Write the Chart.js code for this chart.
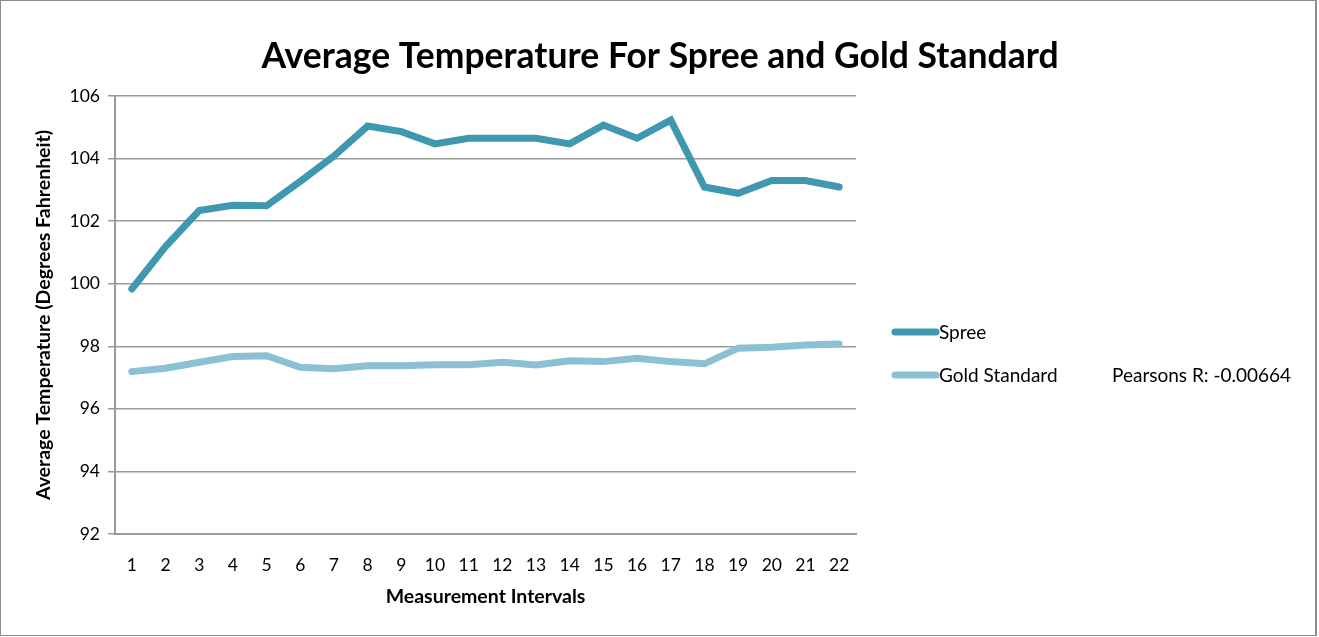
<!DOCTYPE html>
<html>
<head>
<meta charset="utf-8">
<script src="https://cdn.jsdelivr.net/npm/chart.js@4"></script>
<style>
    html, body { margin: 0; padding: 0; background: #fff; overflow: hidden; }
    #wrap { position: relative; width: 1319px; height: 637px; }
    #frame { position: absolute; left: 0; top: 0; width: 1317px; height: 636px; border: 1px solid #8c8c8c; border-right-width: 2px; border-top-width: 1px; box-sizing: border-box; pointer-events: none; }
    canvas { display: block; position: absolute; left: 0; top: 0; }
</style>
</head>
<body>
<div id="wrap"><canvas id="tempChart" width="1319" height="637"></canvas><div id="frame"></div></div>
<script>
const intervals = ['1', '2', '3', '4', '5', '6', '7', '8', '9', '10', '11', '12', '13', '14', '15', '16', '17', '18', '19', '20', '21', '22'];
const spree = [99.83, 101.19, 102.34, 102.51, 102.49, 103.27, 104.08, 105.04, 104.86, 104.47, 104.65, 104.65,
               104.65, 104.47, 105.07, 104.65, 105.23, 103.09, 102.89, 103.3, 103.3, 103.09];
const goldStandard = [97.19, 97.3, 97.49, 97.67, 97.7, 97.33, 97.28, 97.38, 97.38, 97.41, 97.41, 97.49,
                      97.4, 97.54, 97.51, 97.62, 97.51, 97.44, 97.94, 97.97, 98.04, 98.07];
const pearsonsText = 'Pearsons R: -0.00664';

const FONT = 'Lato, "Open Sans", sans-serif';

// legend and title drawn by hand so they land where the original puts them
const chartDecor = {
    id: 'chartDecor',
    afterDraw(chart) {
        const ctx = chart.ctx;
        ctx.save();
        ctx.fillStyle = '#000';
        ctx.textAlign = 'center';
        ctx.textBaseline = 'middle';
        ctx.font = 'bold 35.5px ' + FONT;
        ctx.fillText('Average Temperature For Spree and Gold Standard', 660, 57);

        ctx.font = '19px ' + FONT;
        ctx.textAlign = 'left';
        chart.data.datasets.forEach((ds, i) => {
            const y = 332 + i * 43;
            ctx.strokeStyle = ds.borderColor;
            ctx.lineWidth = 7;
            ctx.lineCap = 'round';
            ctx.beginPath();
            ctx.moveTo(895, y);
            ctx.lineTo(936, y);
            ctx.stroke();
            ctx.fillText(ds.label, 939, y + 1);
        });
        ctx.fillText(pearsonsText, 1112, 376);
        ctx.restore();
    }
};

const ctx = document.getElementById('tempChart').getContext('2d');
new Chart(ctx, {
    type: 'line',
    data: {
        labels: intervals,
        datasets: [
            { label: 'Spree', data: spree, borderColor: '#3f97b0', borderWidth: 7, borderCapStyle: 'round', pointRadius: 0, tension: 0 },
            { label: 'Gold Standard', data: goldStandard, borderColor: '#8cc0d4', borderWidth: 7, borderCapStyle: 'round', pointRadius: 0, tension: 0 }
        ]
    },
    options: {
        responsive: false,
        animation: false,
        devicePixelRatio: 1,
        layout: { padding: { left: 0, right: 1319 - 856, top: 96, bottom: 0 } },
        plugins: {
            legend: { display: false },
            tooltip: { enabled: false }
        },
        scales: {
            x: {
                offset: true,
                grid: { display: false },
                border: { display: true, color: '#999', width: 2 },
                ticks: { color: '#000', font: { family: FONT, size: 17.5 }, padding: 13, maxRotation: 0, autoSkip: false },
                title: { display: true, text: 'Measurement Intervals', color: '#000', font: { family: FONT, size: 19.5, weight: 'bold' }, padding: { bottom: 29 } },
                afterFit: (scale) => { scale.height = 637 - 534; }
            },
            y: {
                min: 92,
                max: 106,
                ticks: { stepSize: 2, color: '#000', font: { family: FONT, size: 17.5 }, padding: 8 },
                grid: { color: '#999', lineWidth: 1.5, tickLength: 7 },
                border: { display: true, color: '#999', width: 2 },
                title: { display: true, text: 'Average Temperature (Degrees Fahrenheit)', color: '#000', font: { family: FONT, size: 19.5, weight: 'bold' }, padding: { top: 32 } },
                afterFit: (scale) => { scale.width = 115; }
            }
        }
    },
    plugins: [chartDecor]
});
</script>
</body>
</html>
